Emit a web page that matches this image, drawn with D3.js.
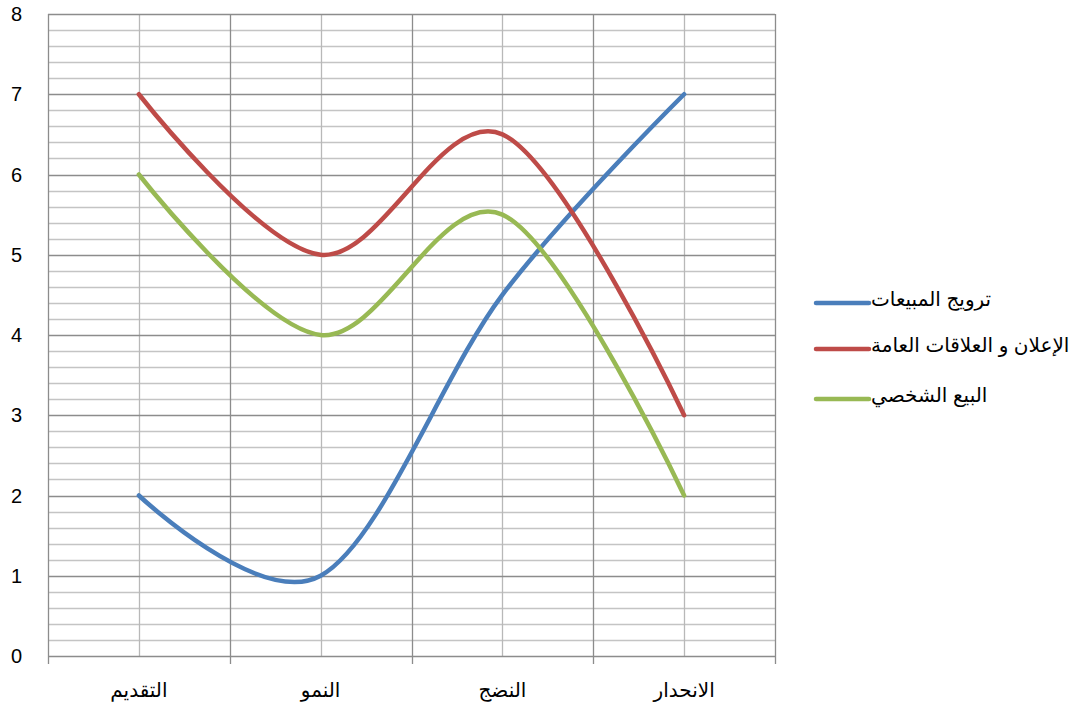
<!DOCTYPE html>
<html><head><meta charset="utf-8">
<script src="https://cdn.jsdelivr.net/npm/d3@7"></script>
<style>body{margin:0;background:#fff}svg{display:block}</style>
</head><body>
<svg id="c" width="1091" height="709" direction="ltr"></svg>
<script>
const categories = ["التقديم", "النمو", "النضج", "الانحدار"];
const seriesNames = ["ترويج المبيعات", "الإعلان و العلاقات العامة", "البيع الشخصي"];
const salesPromotion = [2, 1, 4.5, 7];
const advertisingPR = [7, 5, 6.5, 3];
const personalSelling = [6, 4, 5.5, 2];
const yTicks = [0, 1, 2, 3, 4, 5, 6, 7, 8];
const colors = ["#4a7ebb", "#be4b48", "#98b954"];
const series = [salesPromotion, advertisingPR, personalSelling];

const svg = d3.select("#c");
const L = 48, R = 775, T = 14, B = 656;
const font = "'Liberation Sans', Arial, 'DejaVu Sans', sans-serif";

const x = d3.scaleBand().domain(categories).range([L, R]).padding(0);
const xc = d => x(d) + x.bandwidth() / 2;
const y = d3.scaleLinear().domain([0, 8]).range([B, T]);

// minor horizontal grid
const minor = d3.range(0, 8.0001, 0.2).filter(v => Math.abs(v - Math.round(v)) > 1e-6);
svg.append("g").selectAll("line").data(minor).join("line")
  .attr("x1", L).attr("x2", R)
  .attr("y1", d => Math.round(y(d)) + 0.5).attr("y2", d => Math.round(y(d)) + 0.5)
  .attr("stroke", "#c4c4c4").attr("stroke-width", 1.3);
// vertical center lines
svg.append("g").selectAll("line").data(categories).join("line")
  .attr("x1", d => Math.round(xc(d)) + 0.5).attr("x2", d => Math.round(xc(d)) + 0.5)
  .attr("y1", T).attr("y2", B)
  .attr("stroke", "#b8b8b8").attr("stroke-width", 1.3);
// vertical boundary lines
const bounds = categories.map(c => x(c)).concat([R]);
svg.append("g").selectAll("line").data(bounds).join("line")
  .attr("x1", d => Math.round(d) + 0.5).attr("x2", d => Math.round(d) + 0.5)
  .attr("y1", T).attr("y2", B + 8)
  .attr("stroke", "#8c8c8c").attr("stroke-width", 1.3);
// major horizontal grid
svg.append("g").selectAll("line").data(yTicks).join("line")
  .attr("x1", L).attr("x2", R)
  .attr("y1", d => Math.round(y(d)) + 0.5).attr("y2", d => Math.round(y(d)) + 0.5)
  .attr("stroke", "#8c8c8c").attr("stroke-width", 1.3);

// y labels
svg.append("g").selectAll("text").data(yTicks).join("text")
  .attr("x", 22).attr("y", d => y(d)).attr("dy", "0.35em")
  .attr("text-anchor", "end").attr("font-family", font).attr("font-size", 20)
  .attr("fill", "#000").text(d => d);
// x labels
svg.append("g").selectAll("text").data(categories).join("text")
  .attr("x", d => xc(d)).attr("y", 697)
  .attr("text-anchor", "middle").attr("font-family", font).attr("font-size", 20)
  .attr("fill", "#000").text(d => d);

// lines
const line = d3.line().x((d, i) => xc(categories[i])).y(d => y(d))
  .curve(d3.curveCatmullRom.alpha(0));
svg.append("g").selectAll("path").data(series).join("path")
  .attr("d", d => line(d)).attr("fill", "none")
  .attr("stroke", (d, i) => colors[i]).attr("stroke-width", 4.5)
  .attr("stroke-linecap", "round").attr("stroke-linejoin", "round");

// legend
const ly = [303, 349, 399];
const lg = svg.append("g");
lg.selectAll("line").data(seriesNames).join("line")
  .attr("x1", 816).attr("x2", 869)
  .attr("y1", (d, i) => ly[i]).attr("y2", (d, i) => ly[i])
  .attr("stroke", (d, i) => colors[i]).attr("stroke-width", 4.5)
  .attr("stroke-linecap", "round");
lg.selectAll("text").data(seriesNames).join("text")
  .attr("x", 871).attr("y", (d, i) => ly[i]).attr("dy", "0.15em")
  .attr("text-anchor", "start").attr("font-family", font).attr("font-size", 20)
  .attr("fill", "#000").text(d => d);
</script>
</body></html>
